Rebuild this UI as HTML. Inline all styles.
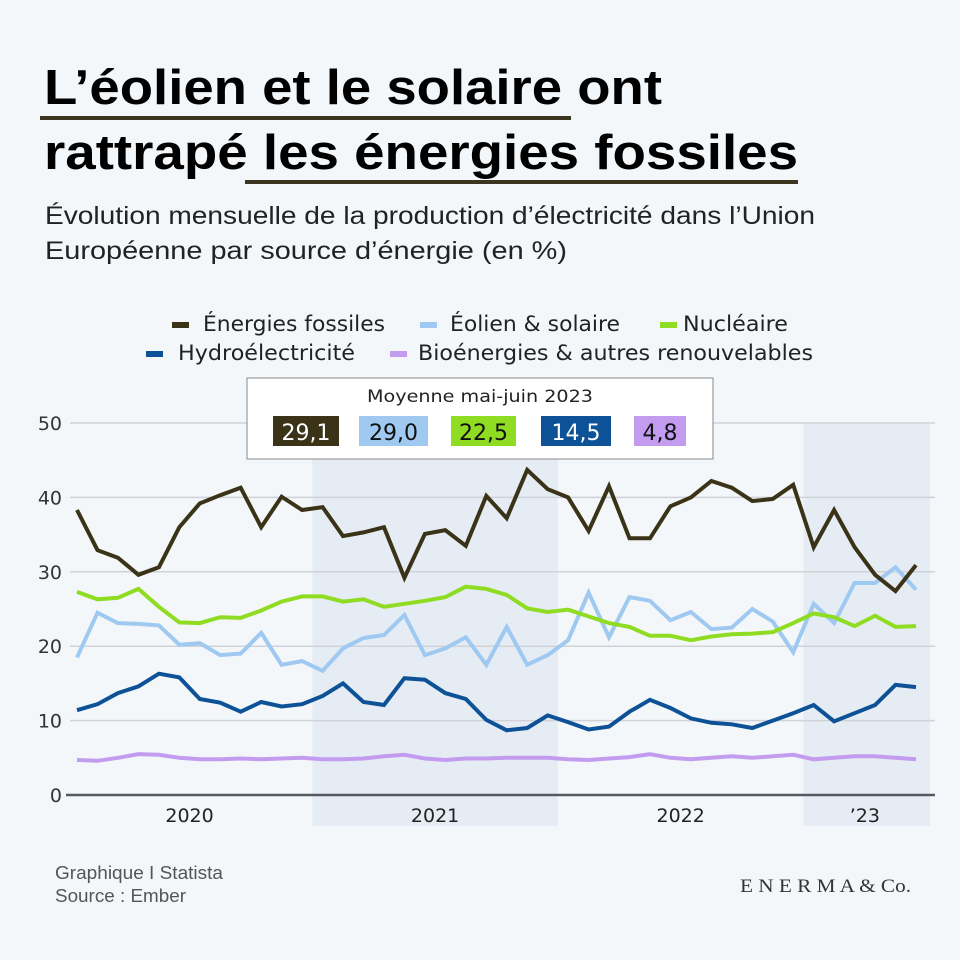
<!DOCTYPE html>
<html><head><meta charset="utf-8"><style>
html,body{margin:0;padding:0;background:#f3f7fa;}
svg{display:block;}
</style></head><body>
<svg id="chart" width="960" height="960" viewBox="0 0 960 960" xmlns="http://www.w3.org/2000/svg">
<rect x="0" y="0" width="960" height="960" fill="#f3f7fa"/>
<g font-family="'Liberation Sans Narrow','Liberation Sans',sans-serif" font-weight="bold" fill="#000">
<text x="44" y="104" font-size="49" textLength="618" lengthAdjust="spacingAndGlyphs">L’éolien et le solaire ont</text>
<text x="44" y="169" font-size="49" textLength="754" lengthAdjust="spacingAndGlyphs">rattrapé les énergies fossiles</text>
</g>
<rect x="40" y="116" width="531" height="4" fill="#3c3520"/>
<rect x="245" y="180" width="553" height="4" fill="#3c3520"/>
<g font-family="'Liberation Sans Narrow','Liberation Sans',sans-serif" fill="#222" font-size="25">
<text x="45" y="224" textLength="770" lengthAdjust="spacingAndGlyphs">Évolution mensuelle de la production d’électricité dans l’Union</text>
<text x="45" y="259" textLength="522" lengthAdjust="spacingAndGlyphs">Européenne par source d’énergie (en %)</text>
</g>
<g id="plot"></g>
<g id="legend" font-family="'DejaVu Sans','Liberation Sans',sans-serif" font-size="21" fill="#222"></g>
<g>
<rect x="247" y="378" width="466" height="81" fill="#fff" stroke="#888" stroke-width="1"/>
<text x="480" y="402" text-anchor="middle" font-family="'DejaVu Sans','Liberation Sans',sans-serif" font-size="17" fill="#222" textLength="226" lengthAdjust="spacingAndGlyphs">Moyenne mai-juin 2023</text>
<g id="avgvals" font-family="'DejaVu Sans','Liberation Sans',sans-serif" font-size="22"></g>
</g>
<g font-family="'Liberation Sans Narrow','Liberation Sans',sans-serif" font-size="18" fill="#555">
<text x="55" y="879" textLength="168" lengthAdjust="spacingAndGlyphs">Graphique I Statista</text>
<text x="55" y="902" textLength="131" lengthAdjust="spacingAndGlyphs">Source : Ember</text>
</g>
<text x="740" y="892" textLength="171" lengthAdjust="spacingAndGlyphs" font-family="'Liberation Serif',serif" font-size="19" fill="#333">E N E R M A &amp; Co.</text>
</svg>
<script>
const seriesNames = ["Énergies fossiles","Éolien & solaire","Nucléaire","Hydroélectricité","Bioénergies & autres renouvelables"];
const seriesColors = ["#3a3318","#9fc9f0","#8fdc23","#0d5296","#c39cf0"];
const fossil = [38.3,32.9,31.9,29.6,30.6,36.0,39.2,40.3,41.3,36.0,40.1,38.3,38.7,34.8,35.3,36.0,29.2,35.1,35.6,33.5,40.2,37.2,43.7,41.1,40.0,35.5,41.5,34.5,34.5,38.8,40.0,42.2,41.3,39.5,39.8,41.7,33.3,38.3,33.3,29.6,27.4,30.9];
const windSolar = [18.5,24.5,23.1,23.0,22.8,20.2,20.4,18.8,19.0,21.8,17.5,18.0,16.7,19.7,21.1,21.5,24.2,18.8,19.7,21.2,17.5,22.6,17.5,18.8,20.8,27.2,21.2,26.6,26.1,23.5,24.6,22.3,22.5,25.0,23.3,19.2,25.7,23.1,28.5,28.5,30.6,27.6];
const nuclear = [27.3,26.3,26.5,27.7,25.3,23.2,23.1,23.9,23.8,24.8,26.0,26.7,26.7,26.0,26.3,25.3,25.7,26.1,26.6,28.0,27.7,26.9,25.1,24.6,24.9,24.0,23.1,22.6,21.4,21.4,20.8,21.3,21.6,21.7,21.9,23.1,24.4,23.9,22.7,24.1,22.6,22.7];
const hydro = [11.4,12.2,13.7,14.6,16.3,15.8,12.9,12.4,11.2,12.5,11.9,12.2,13.3,15.0,12.5,12.1,15.7,15.5,13.7,12.9,10.1,8.7,9.0,10.7,9.8,8.8,9.2,11.2,12.8,11.7,10.3,9.7,9.5,9.0,10.0,11.0,12.1,9.9,11.0,12.1,14.8,14.5];
const bio = [4.7,4.6,5.0,5.5,5.4,5.0,4.8,4.8,4.9,4.8,4.9,5.0,4.8,4.8,4.9,5.2,5.4,4.9,4.7,4.9,4.9,5.0,5.0,5.0,4.8,4.7,4.9,5.1,5.5,5.0,4.8,5.0,5.2,5.0,5.2,5.4,4.8,5.0,5.2,5.2,5.0,4.8];
const averages = ["29,1","29,0","22,5","14,5","4,8"];
const yTicks = [0,10,20,30,40,50];
const yearLabels = ["2020","2021","2022","’23"];
const yearStartMonth = [0,12,24,36];

const NS="http://www.w3.org/2000/svg";
const X0=77, X1=916, Y0=795, Y50=423;
const nMonths = fossil.length;
function xAt(i){return X0+(X1-X0)*i/(nMonths-1);}
function yAt(v){return Y0+(Y50-Y0)*v/50;}
function mk(tag,attrs,parent){const e=document.createElementNS(NS,tag);for(const k in attrs)e.setAttribute(k,attrs[k]);parent.appendChild(e);return e;}
const plot=document.getElementById('plot');
const step=(X1-X0)/(nMonths-1);
yearStartMonth.forEach((m,i)=>{
  const xs=xAt(m)-step/2, xe=Math.min(xAt(Math.min(m+11,nMonths-1))+step/2+12, 930);
  if(i%2===1){
    const r=mk('rect',{x:xs,y:423,width:(i===3?930:xAt(m+11)+step/2)-xs,height:403,fill:'#e6ecf4'},plot);
    
    
  }
  const lastM=Math.min(m+11,nMonths-1);
  const t=mk('text',{x:(xAt(m)+xAt(lastM))/2,y:822,'text-anchor':'middle','font-family':"'DejaVu Sans','Liberation Sans',sans-serif",'font-size':19,fill:'#222'},plot);
  t.textContent=yearLabels[i];
  
  
});
yTicks.forEach(v=>{
  const y=yAt(v);
  const l=mk('line',{x1:v===0?66:70,x2:935,y1:y,y2:y,stroke:v===0?'#555a60':'#cfd3d8','stroke-width':v===0?2.5:1.5},plot);
  
  
  const t=mk('text',{x:62,y:y+7,'text-anchor':'end','font-family':"'DejaVu Sans','Liberation Sans',sans-serif",'font-size':19,fill:'#333'},plot);
  t.textContent=String(v);
  
  
});
const allSeries=[bio,hydro,windSolar,nuclear,fossil];
const order=[4,3,1,2,0];
const lineNames=['line-bioenergies','line-hydro','line-wind-solar','line-nuclear','line-fossil'];
allSeries.forEach((arr,k)=>{
  const d=arr.map((v,i)=>(i?'L':'M')+xAt(i).toFixed(1)+','+yAt(v).toFixed(1)).join(' ');
  const p=mk('path',{d:d,fill:'none',stroke:seriesColors[order[k]],'stroke-width':4,'stroke-linejoin':'miter','stroke-linecap':'butt'},plot);
  
  
});
const leg=document.getElementById('legend');
const legSw=[[172,331],[420,331],[660,331],[146,360],[390,360]];
const legTx=[[203,182],[450,170],[683,105],[178,177],[418,395]];
seriesNames.forEach((n,i)=>{
  const g=mk('g',{},leg);
  
  
  mk('rect',{x:legSw[i][0],y:legSw[i][1]-9,width:17,height:6,fill:seriesColors[i]},g);
  const t=mk('text',{x:legTx[i][0],y:legSw[i][1],textLength:legTx[i][1],lengthAdjust:'spacingAndGlyphs'},g);
  t.textContent=n;
});
const av=document.getElementById('avgvals');
const swX=[273,359,451,541,634], swW=[66,69,65,70,52];
averages.forEach((v,i)=>{
  const r=mk('rect',{x:swX[i],y:416,width:swW[i],height:30,fill:seriesColors[i]},av);
  
  
  const t=mk('text',{x:swX[i]+swW[i]/2,y:440,'text-anchor':'middle',fill:(i===0||i===3)?'#fff':'#111'},av);
  t.textContent=v;
  
  
});
</script>
</body></html>
